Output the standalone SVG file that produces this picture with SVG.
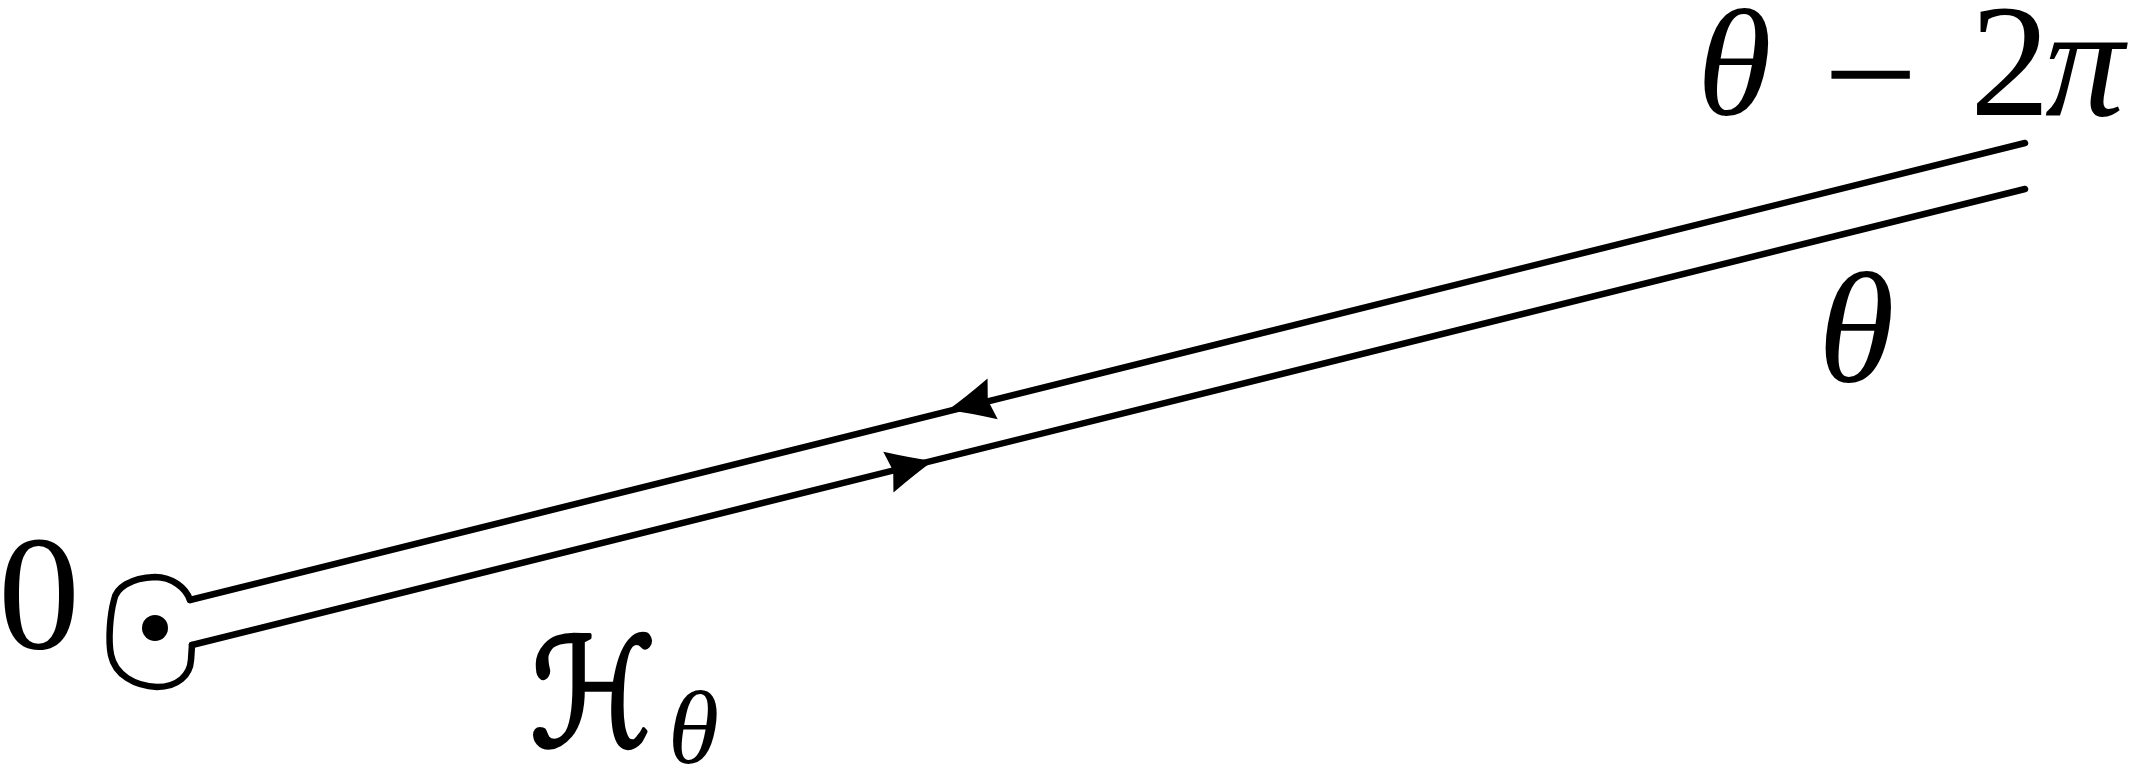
<svg xmlns="http://www.w3.org/2000/svg" xmlns:xlink="http://www.w3.org/1999/xlink" width="2134" height="770" viewBox="0 0 2134 770">
<style>
.ln{fill:none;stroke:#000;stroke-width:6.5;stroke-linecap:round;stroke-linejoin:round}
.tx{font-family:"Liberation Serif","DejaVu Serif",serif;fill:#000}
.it{font-style:italic}
</style>
<defs>
<path id="ah" d="M0,0 Q-20,-8 -46,-21 L-41,0 L-46,21 Q-20,8 0,0 Z" fill="#000"/>
</defs>
<rect width="2134" height="770" fill="#fff"/>
<g id="connectors">
<path class="ln" d="M190,600 L2025,143"/>
<path class="ln" d="M192,645 L2025,189"/>
<path class="ln" d="M190,600 C186,588 172,577 155,577 C130,578 116,588 114,600 C110,615 108,640 111,655 C115,675 135,686 157,687 C178,687 190,675 191,660 L192,645"/>
<use xlink:href="#ah" transform="translate(948,410) rotate(166)"/>
<use xlink:href="#ah" transform="translate(933,461) rotate(-14)"/>
</g>
<g id="origin">
<circle cx="155" cy="628" r="13" fill="#000"/>
<text class="tx" x="-2" y="648" font-size="164">0</text>
</g>
<g id="label-top">
<text class="tx it" x="1697" y="115" font-size="152">θ</text>
<text class="tx" x="1823" y="127" font-size="158" textLength="95" lengthAdjust="spacingAndGlyphs">−</text>
<text class="tx" x="1970" y="115" font-size="160">2</text>
<text class="tx it" x="2045" y="115" font-size="158">π</text>
</g>
<g id="label-theta">
<text class="tx it" x="1818" y="381" font-size="156">θ</text>
</g>
<g id="label-H">
<text x="530" y="746" font-size="150" font-family="DejaVu Sans, sans-serif" stroke="#000" stroke-width="4" stroke-linejoin="round" textLength="126" lengthAdjust="spacingAndGlyphs">ℋ</text>
<text class="tx it" x="668" y="763" font-size="104">θ</text>
</g>
</svg>
